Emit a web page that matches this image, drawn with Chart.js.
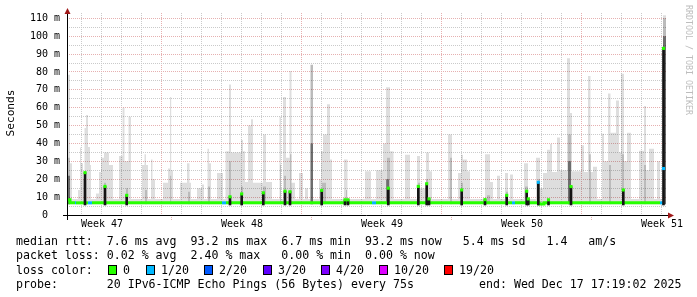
<!DOCTYPE html>
<html>
<head>
<meta charset="utf-8">
<title>SmokePing median rtt</title>
<script src="https://cdn.jsdelivr.net/npm/chart.js@4.4.1/dist/chart.umd.min.js"></script>
<style>
  html, body { margin: 0; padding: 0; background: #fff; }
  #wrap { position: relative; width: 697px; height: 297px; overflow: hidden; }
  #chart { position: absolute; left: 0; top: 0; }
  .lg { position: absolute; font: 11.6px 'DejaVu Sans Mono', monospace; line-height: 14px; white-space: pre; color: #000; }
  .box { position: absolute; width: 9px; height: 10px; box-sizing: border-box; border: 1px solid #000; }
</style>
</head>
<body>
<div id="wrap">
  <canvas id="chart" width="697" height="297"></canvas>
  <div id="legend"></div>
</div>
<script>
(function () {
    'use strict';

    // ── Data (x = days since graph start, y = ms) ───────────────

    const WEEK_LABELS = ['Week 47', 'Week 48', 'Week 49', 'Week 50', 'Week 51'];
    const WEEK_LABEL_POS = [1.75, 8.75, 15.75, 22.75, 29.75];
    const WEEK_STARTS = [5.22, 12.22, 19.22, 26.22];
    const FIRST_MIDNIGHT = 0.22;

    // light smoke: top of the ping spread, value holds until next x
    const SMOKE_T = [
        0.000, 0.050, 0.150, 0.250, 0.550, 0.650, 0.700, 0.800, 0.875, 0.950,
        1.050, 1.150, 1.200, 1.450, 1.600, 1.700, 1.850, 2.100, 2.300, 2.600,
        2.775, 2.875, 3.075, 3.200, 3.750, 3.875, 3.950, 4.050, 4.200, 4.275,
        4.400, 4.800, 5.050, 5.150, 5.210, 5.300, 5.650, 6.000, 6.125, 6.200,
        6.500, 6.750, 6.850, 7.025, 7.100, 7.200, 7.500, 7.800, 7.925, 8.100,
        8.200, 8.700, 8.800, 8.900, 9.050, 9.200, 9.300, 9.800, 9.950, 10.250,
        10.625, 10.700, 10.800, 10.950, 11.125, 11.225, 11.400, 11.600, 11.800, 11.900,
        12.050, 12.175, 12.300, 12.600, 12.700, 12.800, 13.000, 13.150, 13.250, 13.850,
        14.025, 14.900, 15.200, 15.450, 15.800, 15.950, 16.150, 16.325, 16.900, 17.150,
        17.500, 17.650, 17.950, 18.100, 18.250, 19.050, 19.250, 19.550, 19.700, 19.800,
        20.000, 20.150, 20.900, 21.150, 21.300, 21.500, 21.650, 21.900, 22.050, 22.150,
        22.300, 22.850, 23.050, 23.450, 23.650, 23.800, 24.000, 24.150, 24.250, 24.500,
        24.650, 25.000, 25.150, 25.250, 25.700, 25.850, 26.050, 26.175, 26.300, 26.500,
        26.750, 26.850, 27.050, 27.175, 27.450, 27.600, 27.700, 27.850, 28.000, 28.200,
        28.600, 28.850, 28.950, 29.100, 29.350, 29.500, 29.650, 29.800, 29.950
    ];
    const SMOKE_HI = [
        87, 78.5, 29, 9, 14, 37.8, 29, 20, 48.7, 56,
        38, 28, 9, 12, 24, 32, 35, 28, 9, 33,
        60, 30, 55, 9, 28, 34, 28, 9, 31, 20,
        9, 18, 26, 66, 25, 9, 18, 29, 18, 9,
        15, 17, 9, 37, 29, 9, 23.5, 9, 35.6, 73,
        35, 42, 35.6, 18.5, 50, 53.6, 18, 45, 18.5, 9,
        55, 9, 66, 32, 80.6, 18, 9, 23.5, 9, 15,
        9, 84, 9, 20, 35.6, 45, 62, 31, 9, 31,
        9, 24.5, 9, 25, 40, 71.5, 35.6, 9, 33.7, 9,
        33, 15, 35, 24.5, 9, 45, 9, 23.5, 33.7, 31,
        24.5, 9, 34, 18.5, 9, 22, 9, 23.5, 9, 22.6,
        9, 29, 9, 32, 15, 23.5, 36.5, 39.7, 24, 43.4,
        25, 87.7, 57, 24.5, 39, 24, 77.8, 24, 27, 9,
        45.5, 30, 68, 46, 64, 35, 79, 30, 46, 9,
        36, 61, 25, 37, 9, 30, 9, 111.8, 111.8
    ];

    // medium smoke around the busier samples
    const MID_T = [
        0.00, 0.05, 0.15, 0.85, 0.95, 1.85, 1.95, 2.95, 3.05, 3.90,
        4.00, 5.15, 5.21, 6.05, 6.15, 7.05, 7.15, 8.10, 8.20, 8.70,
        8.80, 9.80, 9.95, 10.65, 10.70, 10.85, 10.95, 11.15, 11.225, 12.175,
        12.30, 12.75, 12.95, 13.95, 14.00, 16.00, 16.15, 17.55, 17.65, 17.95,
        18.05, 19.15, 19.25, 19.70, 19.80, 21.00, 21.15, 21.95, 22.05, 22.90,
        23.05, 23.55, 23.65, 25.05, 25.20, 26.10, 26.20, 27.10, 27.20, 27.75,
        27.85, 28.85, 28.95, 29.80, 29.95
    ];
    const MID_HI = [
        45, 32, 6, 22, 6, 18, 6, 15, 6, 14,
        6, 22, 6, 13, 6, 16, 6, 30, 6, 16,
        6, 16, 6, 28, 6, 22, 6, 34, 6, 84,
        6, 18, 6, 14, 6, 32, 6, 18, 6, 20,
        6, 32, 6, 18, 6, 11, 6, 13, 6, 16,
        6, 20, 6, 45, 6, 34, 6, 28, 6, 34,
        6, 28, 6, 110, 6
    ];

    // dark smoke close to the median
    const DARK_T  = [0.00, 0.15, 0.85, 0.95, 12.175, 12.30, 15.95, 16.10, 25.05, 25.20, 29.80, 29.95];
    const DARK_HI = [22, 6, 16, 6, 40, 6, 20, 6, 30, 6, 100, 6];

    // median rtt (baseline) with packet loss index
    const MED_T    = [0.00, 0.15, 0.40, 0.45, 1.05, 1.25, 7.75, 7.95, 15.25, 15.45, 22.25, 22.40, 23.60, 23.85, 29.65, 29.80];
    const MED_MS   = [8.6, 6.8, 6.8, 6.8, 6.8, 6.8, 6.8, 6.8, 6.8, 6.8, 6.8, 6.8, 6.2, 6.8, 6.8, 6.8];
    const MED_LOSS = [0, 0, 1, 0, 1, 0, 1, 0, 1, 0, 1, 0, 0, 0, 1, 1];

    // samples where the median jumped
    const SPIKE_T = [
        0.90, 1.90, 2.985, 8.15, 8.735, 9.815, 10.90, 11.15, 12.735, 13.90,
        14.05, 16.065, 17.565, 17.985, 18.10, 19.735, 20.90, 21.985, 22.985, 23.065,
        23.565, 24.075, 25.20, 27.815, 29.825
    ];
    const SPIKE_MS = [
        23.7, 16, 11, 10.2, 11.8, 12.4, 13.3, 13, 13.8, 8.5,
        8.5, 15, 16, 17.5, 9, 14, 8.6, 11, 13.3, 9,
        18.3, 8.5, 15.9, 14, 93.2
    ];
    const SPIKE_LOSS = [
        0, 0, 0, 0, 0, 0, 0, 0, 0, 0,
        0, 0, 0, 0, 0, 0, 0, 0, 0, 0,
        1, 0, 0, 0, 0
    ];
    const LOSS_MARK_T = [29.825];
    const LOSS_MARK_MS = [26];
    const LOSS_MARK_LOSS = [1];

    const LOSS_COLORS = ['#26ff00', '#00b8ff', '#0059ff', '#5e00ff', '#7e00ff', '#dd00ff', '#ff0000'];
    const LOSS_LABELS = ['0', '1/20', '2/20', '3/20', '4/20', '10/20', '19/20'];

    // ── Styling ─────────────────────────────────────────────────

    const GRID_MAJOR = '#e6b0b0';
    const GRID_MINOR = '#cacaca';
    const MONO = '"DejaVu Sans Mono", monospace';

    const pts = (xs, ys) => xs.map((x, i) => ({ x: x, y: ys[i] }));

    const dayLines = [];
    for (let d = FIRST_MIDNIGHT; d < 30; d += 1) dayLines.push(+d.toFixed(2));

    // smoke is translucent so the dotted grid still shows through it
    function smoke(label, xs, ys, color, order) {
        return {
            type: 'line', label, order,
            data: pts(xs, ys),
            stepped: 'before',
            borderWidth: 0,
            borderColor: 'rgba(0,0,0,0)',
            backgroundColor: color,
            fill: { value: 6 },
            pointRadius: 0,
        };
    }

    function xGridColor(c) {
        if (!c.tick) return GRID_MINOR;
        return WEEK_STARTS.some(w => Math.abs(w - c.tick.value) < 0.01) ? GRID_MAJOR : GRID_MINOR;
    }

    function yGridColor(c) {
        if (!c.tick) return GRID_MINOR;
        return c.tick.value % 10 === 0 ? GRID_MAJOR : GRID_MINOR;
    }

    // ── Frame plugin: axes, arrows, labels ──────────────────────

    const rrdFrame = {
        id: 'rrdFrame',
        afterDraw(chart) {
            const ctx = chart.ctx;
            const { left, right, top, bottom } = chart.chartArea;
            const xs = chart.scales.x;
            ctx.save();

            ctx.strokeStyle = GRID_MAJOR;
            ctx.lineWidth = 1;
            ctx.setLineDash([1, 1]);
            WEEK_STARTS.forEach(d => {
                const px = Math.round(xs.getPixelForValue(d)) + 0.5;
                ctx.beginPath();
                ctx.moveTo(px, bottom);
                ctx.lineTo(px, bottom + 5);
                ctx.stroke();
            });
            ctx.setLineDash([]);

            ctx.strokeStyle = '#000';
            ctx.beginPath();
            ctx.moveTo(left - 4, bottom + 0.5);
            ctx.lineTo(right + 3, bottom + 0.5);
            ctx.moveTo(left + 0.5, bottom + 5);
            ctx.lineTo(left + 0.5, top - 1);
            ctx.stroke();

            ctx.fillStyle = '#a01818';
            ctx.beginPath();
            ctx.moveTo(right + 1, bottom - 2.5);
            ctx.lineTo(right + 7, bottom + 0.5);
            ctx.lineTo(right + 1, bottom + 3.5);
            ctx.closePath();
            ctx.fill();
            ctx.beginPath();
            ctx.moveTo(left - 2.5, top + 1);
            ctx.lineTo(left + 0.5, top - 5);
            ctx.lineTo(left + 3.5, top + 1);
            ctx.closePath();
            ctx.fill();

            ctx.fillStyle = '#000';
            ctx.font = '10px ' + MONO;
            ctx.textAlign = 'center';
            ctx.textBaseline = 'middle';
            WEEK_LABELS.forEach((t, i) => {
                ctx.fillText(t, xs.getPixelForValue(WEEK_LABEL_POS[i]), 224);
            });

            ctx.save();
            ctx.translate(11, 113);
            ctx.rotate(-Math.PI / 2);
            ctx.font = '11.2px ' + MONO;
            ctx.fillText('Seconds', 0, 0);
            ctx.restore();

            ctx.save();
            ctx.translate(688, 5);
            ctx.rotate(Math.PI / 2);
            ctx.textAlign = 'left';
            ctx.fillStyle = '#bdbdbd';
            ctx.font = '8.3px ' + MONO;
            ctx.fillText('RRDTOOL / TOBI OETIKER', 0, 0);
            ctx.restore();

            ctx.restore();
        },
    };

    // ── Legend (text rows under the graph) ──────────────────────

    const legend = document.getElementById('legend');
    const LEFT = 16, CH = 7;

    function text(str, x, top) {
        const el = document.createElement('div');
        el.className = 'lg';
        el.style.left = x + 'px';
        el.style.top = top + 'px';
        el.textContent = str;
        legend.appendChild(el);
    }

    text('median rtt:  7.6 ms avg  93.2 ms max  6.7 ms min  93.2 ms now   5.4 ms sd   1.4   am/s', LEFT, 234);
    text('packet loss: 0.02 % avg  2.40 % max   0.00 % min  0.00 % now', LEFT, 248);
    text('loss color:', LEFT, 263);
    text('probe:       20 IPv6-ICMP Echo Pings (56 Bytes) every 75s', LEFT, 277);
    text('end: Wed Dec 17 17:19:02 2025', 479, 277);

    const BOX_COLS = [13.1, 18.5, 26.9, 35.3, 43.6, 51.9, 61.2];
    LOSS_LABELS.forEach((lab, i) => {
        const bx = Math.round(LEFT + BOX_COLS[i] * CH);
        const box = document.createElement('div');
        box.className = 'box';
        box.style.left = bx + 'px';
        box.style.top = '265px';
        box.style.background = LOSS_COLORS[i];
        legend.appendChild(box);
        text(lab, bx + 15, 263);
    });

    // ── Chart ───────────────────────────────────────────────────

    new Chart(document.getElementById('chart'), {
        type: 'line',
        data: {
            datasets: [
                smoke('smoke', SMOKE_T, SMOKE_HI, 'rgba(0,0,0,0.13)', 6),
                smoke('smoke mid', MID_T, MID_HI, 'rgba(0,0,0,0.16)', 5),
                smoke('smoke dark', DARK_T, DARK_HI, 'rgba(0,0,0,0.42)', 4),
                {
                    type: 'line', label: 'median rtt', order: 3,
                    data: pts(MED_T, MED_MS),
                    stepped: 'before',
                    borderWidth: 3,
                    borderCapStyle: 'butt',
                    borderColor: LOSS_COLORS[0],
                    segment: { borderColor: c => LOSS_COLORS[MED_LOSS[c.p0DataIndex]] },
                    pointRadius: 0,
                    fill: false,
                },
                {
                    type: 'bar', label: 'median jump', order: 2,
                    data: SPIKE_T.map((t, i) => ({ x: t, y: [5.6, SPIKE_MS[i]] })),
                    backgroundColor: '#141414',
                    barThickness: 2,
                    borderWidth: 0,
                },
                {
                    type: 'line', label: 'median top', order: 1,
                    data: pts(SPIKE_T.concat(LOSS_MARK_T), SPIKE_MS.concat(LOSS_MARK_MS)),
                    showLine: false,
                    pointStyle: 'rect',
                    pointRadius: 2.2,
                    pointBorderWidth: 0,
                    pointBackgroundColor: SPIKE_LOSS.concat(LOSS_MARK_LOSS).map(l => LOSS_COLORS[l]),
                },
            ],
        },
        options: {
            responsive: false,
            animation: false,
            events: [],
            layout: { padding: { left: 0, right: 30, top: 13, bottom: 0 } },
            plugins: { legend: { display: false }, tooltip: { enabled: false } },
            scales: {
                x: {
                    type: 'linear', min: 0, max: 30, offset: false,
                    afterBuildTicks: s => { s.ticks = dayLines.map(v => ({ value: v })); },
                    afterFit: s => { s.height = 82; },
                    ticks: { display: false },
                    grid: { drawTicks: false, lineWidth: 1, color: xGridColor },
                    border: { display: false, dash: [1, 1] },
                },
                y: {
                    type: 'linear', min: 0, max: 113,
                    afterFit: s => { s.width = 67; },
                    ticks: {
                        stepSize: 5,
                        includeBounds: false,
                        autoSkip: false,
                        padding: 7,
                        color: '#000',
                        font: { family: 'DejaVu Sans Mono', size: 10 },
                        callback: v => v % 10 !== 0 ? '' : (v === 0 ? '0  ' : v + ' m'),
                    },
                    grid: { drawTicks: false, lineWidth: 1, color: yGridColor },
                    border: { display: false, dash: [1, 1] },
                },
            },
        },
        plugins: [rrdFrame],
    });
})();
</script>
</body>
</html>
